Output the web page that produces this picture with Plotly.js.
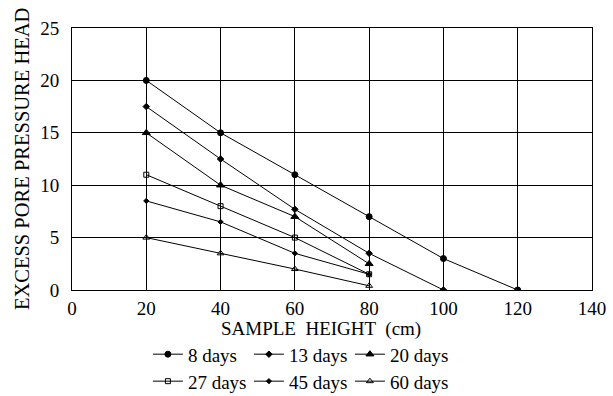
<!DOCTYPE html>
<html>
<head>
<meta charset="utf-8">
<script src="https://cdn.plot.ly/plotly-3.0.1.min.js"></script>
<style>html,body{margin:0;padding:0;background:#fff;}#chart{width:613px;height:396px;}</style>
</head>
<body>
<div id="chart"></div>
<script>
// Sample height (cm) and excess pore pressure head for each elapsed time
var seriesNames = ["8 days", "13 days", "20 days", "27 days", "45 days", "60 days"];
var x8  = [20, 40, 60, 80, 100, 120];
var y8  = [20, 15, 11, 7, 3, 0];
var x13 = [20, 40, 60, 80, 100];
var y13 = [17.5, 12.5, 7.7, 3.5, 0];
var x20 = [20, 40, 60, 80];
var y20 = [15, 10, 7, 2.5];
var x27 = [20, 40, 60, 80];
var y27 = [11, 8, 5, 1.5];
var x45 = [20, 40, 60, 80];
var y45 = [8.5, 6.5, 3.5, 1.5];
var x60 = [20, 40, 60, 80];
var y60 = [5, 3.5, 2, 0.4];
var xTicks = [0, 20, 40, 60, 80, 100, 120, 140];
var yTicks = [0, 5, 10, 15, 20, 25];

var FONT = "Liberation Serif";
var symbols = ["circle", "diamond", "triangle-up", "square-open", "diamond", "triangle-up-open"];
var sizes = [6, 5, 7, 5, 4, 6];
var xs = [x8, x13, x20, x27, x45, x60];
var ys = [y8, y13, y20, y27, y45, y60];

var traces = seriesNames.map(function (n, i) {
  return {
    x: xs[i], y: ys[i], name: n, type: "scatter", mode: "lines+markers",
    line: {color: "#000", width: 1},
    marker: {symbol: symbols[i], size: sizes[i], color: "#000", line: {color: "#000", width: 1}},
    legend: i < 3 ? "legend" : "legend2"
  };
});

function legendOpts(y) {
  return {
    orientation: "h", xanchor: "left", yanchor: "top", x: 0.146, y: y,
    font: {family: FONT, size: 19, color: "#000"},
    bgcolor: "rgba(0,0,0,0)", borderwidth: 0,
    entrywidth: 56, entrywidthmode: "pixels", itemwidth: 30
  };
}

var layout = {
  width: 613, height: 396,
  margin: {l: 72, r: 21, t: 28, b: 106, autoexpand: false},
  paper_bgcolor: "#fff", plot_bgcolor: "#fff",
  font: {family: FONT, size: 19, color: "#000"},
  showlegend: true,
  legend: legendOpts(-0.173),
  legend2: legendOpts(-0.276),
  xaxis: {
    range: [0, 140], tickvals: xTicks,
    showgrid: true, gridcolor: "#000", gridwidth: 1,
    showline: true, linecolor: "#000", linewidth: 1, mirror: true,
    zeroline: false, ticks: "", ticklabelstandoff: 1, automargin: false,
    tickfont: {family: FONT, size: 19, color: "#000"}
  },
  yaxis: {
    range: [0, 25], tickvals: yTicks,
    showgrid: true, gridcolor: "#000", gridwidth: 1,
    showline: true, linecolor: "#000", linewidth: 1, mirror: true,
    zeroline: false, ticks: "", ticklabelstandoff: 8, automargin: false,
    tickfont: {family: FONT, size: 19, color: "#000"}
  },
  annotations: [
    {text: "SAMPLE  HEIGHT  (cm)", xref: "paper", yref: "paper", x: 0.479, y: -0.15,
     xanchor: "center", yanchor: "middle", showarrow: false,
     font: {family: FONT, size: 19, color: "#000"}},
    {text: "EXCESS PORE PRESSURE HEAD", xref: "paper", yref: "paper", x: -0.096, y: 0.5,
     xanchor: "center", yanchor: "middle", textangle: -90, showarrow: false,
     font: {family: FONT, size: 20.5, color: "#000"}}
  ]
};

Plotly.newPlot("chart", traces, layout, {displayModeBar: false});
</script>
</body>
</html>
